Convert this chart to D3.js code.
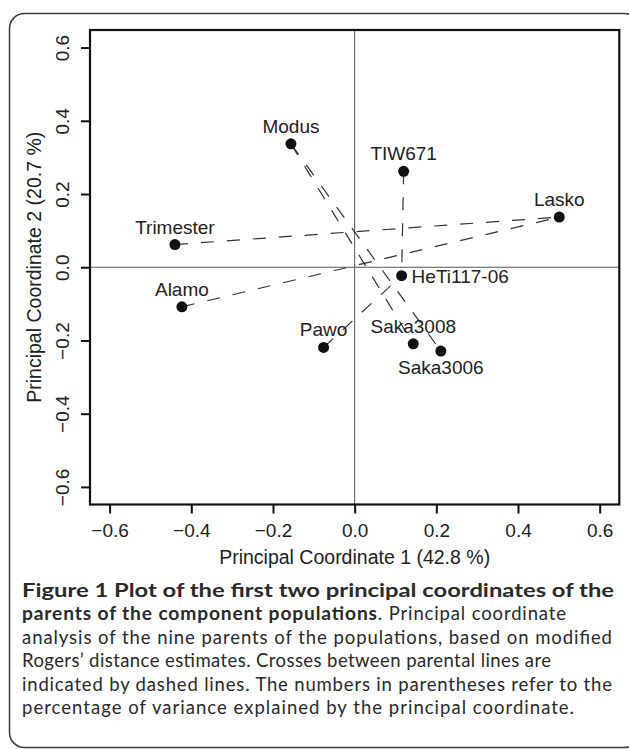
<!DOCTYPE html>
<html>
<head>
<meta charset="utf-8">
<script src="https://cdn.jsdelivr.net/npm/d3@7"></script>
<style>
  body { margin: 0; background: #fff; }
  svg { display: block; }
</style>
</head>
<body>
<script>
// parents of the populations, principal coordinates
var names = ["Modus", "TIW671", "Lasko", "Trimester", "Alamo", "HeTi117-06", "Pawo", "Saka3008", "Saka3006"];
var pc1 = [-0.156, 0.120, 0.501, -0.440, -0.423, 0.115, -0.076, 0.1435, 0.211];
var pc2 = [0.337, 0.262, 0.137, 0.062, -0.108, -0.023, -0.219, -0.209, -0.229];
// where the label sits: 3 = above, 1 = below, 4 = right (like R's pos)
var labelPos = [3, 3, 3, 3, 3, 4, 3, 3, 1];

// crosses between parents (dashed lines)
var crossA = ["Trimester", "Alamo", "Modus", "Modus", "TIW671", "Pawo"];
var crossB = ["Lasko", "Lasko", "Saka3008", "Saka3006", "HeTi117-06", "HeTi117-06"];

var ticks = [-0.6, -0.4, -0.2, 0.0, 0.2, 0.4, 0.6];
var xTitle = "Principal Coordinate 1 (42.8 %)";
var yTitle = "Principal Coordinate 2 (20.7 %)";

var W = 629, H = 749;
var plotFont = "'Liberation Sans', Arial, Helvetica, sans-serif";

var svg = d3.select("body").append("svg")
    .attr("width", W)
    .attr("height", H);

// outer rounded frame of the figure panel
svg.append("rect")
    .attr("x", 9.5).attr("y", 13.5)
    .attr("width", 630).attr("height", 734)
    .attr("rx", 15).attr("ry", 15)
    .attr("fill", "none")
    .attr("stroke", "#3a3a3a")
    .attr("stroke-width", 1.5);

// plot box edges (window.top is read-only, so own names here)
var pL = 90, pR = 619.3, pT = 30, pB = 504.5;

var x = d3.scaleLinear().domain([-0.648, 0.648]).range([pL, pR]);
var y = d3.scaleLinear().domain([-0.648, 0.648]).range([pB, pT]);
var fmt = d3.format(".1f");

// zero lines
svg.append("line")
    .attr("x1", x(0)).attr("x2", x(0))
    .attr("y1", pT).attr("y2", pB)
    .attr("stroke", "#555").attr("stroke-width", 1);
svg.append("line")
    .attr("x1", pL).attr("x2", pR)
    .attr("y1", y(0)).attr("y2", y(0))
    .attr("stroke", "#555").attr("stroke-width", 1);

// bottom axis
var gx = svg.append("g")
    .attr("transform", "translate(0," + pB + ")")
    .call(d3.axisBottom(x).tickValues(ticks).tickFormat(fmt)
        .tickSize(9).tickSizeOuter(0).tickPadding(10));
gx.select(".domain").remove();
gx.selectAll(".tick line").attr("stroke", "#111").attr("stroke-width", 2);
gx.selectAll(".tick text")
    .attr("font-family", plotFont)
    .attr("font-size", 19)
    .attr("fill", "#222");

// left axis, labels turned like R's las=0
var gy = svg.append("g")
    .attr("transform", "translate(" + pL + ",0)")
    .call(d3.axisLeft(y).tickValues(ticks).tickFormat(fmt)
        .tickSize(9).tickSizeOuter(0));
gy.select(".domain").remove();
gy.selectAll(".tick line").attr("stroke", "#111").attr("stroke-width", 2);
gy.selectAll(".tick text")
    .attr("x", null).attr("dy", null)
    .attr("transform", "translate(-21,0) rotate(-90)")
    .attr("text-anchor", "middle")
    .attr("font-family", plotFont)
    .attr("font-size", 19)
    .attr("fill", "#222");

// axis titles
svg.append("text")
    .attr("x", (pL + pR) / 2)
    .attr("y", 564)
    .attr("text-anchor", "middle")
    .attr("font-family", plotFont)
    .attr("font-size", 19.5)
    .attr("fill", "#222")
    .text(xTitle);

svg.append("text")
    .attr("transform", "translate(41," + ((pT + pB) / 2) + ") rotate(-90)")
    .attr("text-anchor", "middle")
    .attr("font-family", plotFont)
    .attr("font-size", 19.5)
    .attr("fill", "#222")
    .text(yTitle);

// point lookup by name
var pts = names.map(function(n, i) {
    return {name: n, px: pc1[i], py: pc2[i], pos: labelPos[i]};
});
var byName = {};
pts.forEach(function(p) { byName[p.name] = p; });

var crosses = crossA.map(function(a, i) { return [byName[a], byName[crossB[i]]]; });

// dashed cross lines
svg.append("g").selectAll("line")
    .data(crosses)
    .enter()
    .append("line")
    .attr("x1", function(d) { return x(d[0].px); })
    .attr("y1", function(d) { return y(d[0].py); })
    .attr("x2", function(d) { return x(d[1].px); })
    .attr("y2", function(d) { return y(d[1].py); })
    .attr("stroke", "#333")
    .attr("stroke-width", 1.2)
    .attr("stroke-dasharray", "13,13");

// points
svg.append("g").selectAll("circle")
    .data(pts)
    .enter()
    .append("circle")
    .attr("cx", function(d) { return x(d.px); })
    .attr("cy", function(d) { return y(d.py); })
    .attr("r", 5.5)
    .attr("fill", "#111");

// point labels
svg.append("g").selectAll("text")
    .data(pts)
    .enter()
    .append("text")
    .attr("x", function(d) { return d.pos == 4 ? x(d.px) + 10 : x(d.px); })
    .attr("y", function(d) {
        if (d.pos == 1) return y(d.py) + 23;
        if (d.pos == 4) return y(d.py) + 7;
        return y(d.py) - 11;
    })
    .attr("text-anchor", function(d) { return d.pos == 4 ? "start" : "middle"; })
    .attr("font-family", plotFont)
    .attr("font-size", 19)
    .attr("fill", "#222")
    .text(function(d) { return d.name; });

// plot box drawn last so it sits on top
svg.append("rect")
    .attr("x", pL).attr("y", pT)
    .attr("width", pR - pL).attr("height", pB - pT)
    .attr("fill", "none")
    .attr("stroke", "#111")
    .attr("stroke-width", 2.2);

// caption, one entry per printed line
var capLines = [
    [["Figure 1 Plot of the first two principal coordinates of the", true]],
    [["parents of the component populations", true], [". Principal coordinate", false]],
    [["analysis of the nine parents of the populations, based on modified", false]],
    [["Rogers\u2019 distance estimates. Crosses between parental lines are", false]],
    [["indicated by dashed lines. The numbers in parentheses refer to the", false]],
    [["percentage of variance explained by the principal coordinate.", false]]
];
var capWidths = [592, 544, 590, 529, 590, 552];

var cap = svg.append("g")
    .attr("font-family", "Lato, 'Open Sans', sans-serif")
    .attr("font-size", 18.5)
    .attr("fill", "#2a2a2a");

capLines.forEach(function(line, i) {
    var t = cap.append("text")
        .attr("x", 22)
        .attr("y", 597 + i * 23.4)
        .attr("textLength", capWidths[i])
        .attr("lengthAdjust", i == 0 ? "spacingAndGlyphs" : "spacing");
    line.forEach(function(part) {
        t.append("tspan")
            .attr("font-weight", part[1] ? "bold" : "normal")
            .attr("font-size", part[1] ? 19.2 : null)
            .text(part[0]);
    });
});
</script>
</body>
</html>
